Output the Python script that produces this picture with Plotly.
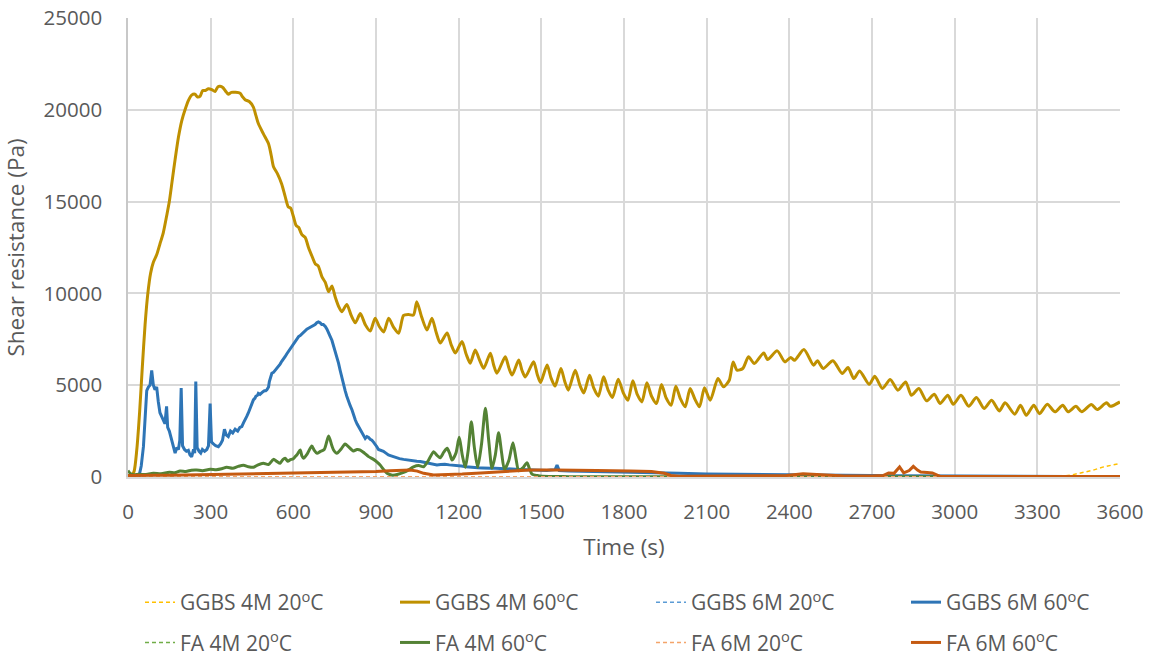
import plotly.graph_objects as go

# ---------------- data ----------------
t_ggbs4_60 = [0, 12, 22, 32, 42, 52, 62, 72, 82, 92, 104, 116, 128, 140, 150, 160, 171, 183, 195, 207,
              219, 231, 243, 252, 262, 271, 280, 292, 304, 316, 326, 334, 345, 355, 364, 375, 390, 407,
              416, 425, 440, 455, 464, 473, 491, 510, 520, 528, 543, 558, 570, 582, 590, 600, 610, 619,
              631, 643, 655, 667, 680, 690, 704, 716, 728, 740, 752, 764, 776, 794, 810, 825, 843, 861,
              879, 897, 912, 928, 946, 964, 982, 1000, 1018, 1036, 1048, 1066, 1085, 1103, 1118, 1133,
              1158, 1173, 1188, 1212, 1227, 1242, 1260, 1275, 1291, 1315, 1327, 1339, 1369, 1382, 1394,
              1418, 1430, 1442, 1472, 1485, 1497, 1521, 1535, 1550, 1571, 1585, 1598, 1623, 1640, 1654,
              1675, 1690, 1707, 1726, 1742, 1758, 1779, 1797, 1814, 1832, 1848, 1865, 1883, 1900, 1918,
              1936, 1953, 1971, 1988, 2005, 2022, 2040, 2057, 2074, 2092, 2113, 2141, 2161, 2182, 2196,
              2210, 2231, 2252, 2273, 2307, 2321, 2356, 2384, 2405, 2419, 2453, 2488, 2502, 2523, 2558,
              2592, 2613, 2634, 2655, 2690, 2710, 2738, 2766, 2794, 2822, 2843, 2870, 2898, 2926, 2947,
              2975, 2995, 3023, 3051, 3079, 3107, 3134, 3162, 3183, 3218, 3239, 3260, 3287, 3308, 3336,
              3364, 3392, 3412, 3440, 3461, 3496, 3517, 3551, 3565, 3600]
v_ggbs4_60 = [0, 50, 300, 1500, 3500, 6000, 8300, 10000, 11100, 11700, 12100, 12700, 13300, 14200, 15000,
              16100, 17300, 18500, 19400, 20000, 20500, 20800, 20850, 20700, 20750, 21050, 21050, 21150,
              21100, 21000, 21250, 21280, 21200, 21000, 20850, 20950, 20950, 20900, 20700, 20550, 20450,
              20150, 19700, 19250, 18700, 18150, 17500, 16900, 16500, 15950, 15300, 14700, 14650, 14200,
              13700, 13600, 13200, 13050, 12500, 12050, 11600, 11500, 10900, 10600, 10100, 10400, 9800,
              9300, 9000, 9400, 8800, 8400, 8900, 8300, 7950, 8650, 8200, 7900, 8650, 8150, 7830, 8800,
              8850, 8820, 9550, 8700, 8000, 8650, 7900, 7300, 7850, 7200, 6750, 7380, 6700, 6200, 6920,
              6400, 5920, 6740, 6100, 5650, 6550, 5950, 5550, 6370, 5800, 5450, 6280, 5600, 5150, 6100,
              5400, 4950, 5910, 5200, 4730, 5820, 5000, 4580, 5545, 4850, 4400, 5455, 4750, 4330, 5330,
              4600, 4180, 5240, 4500, 4090, 5130, 4400, 4000, 5040, 4300, 3910, 4945, 4250, 3820, 4820,
              4250, 3820, 4855, 4180, 5360, 4910, 5270, 6270, 5820, 5910, 6545, 6180, 6760, 6400, 6870,
              6270, 6510, 6360, 6945, 6090, 6330, 5910, 6330, 5640, 5960, 5360, 5780, 5050, 5490, 4820,
              5310, 4730, 5180, 4450, 4820, 4150, 4510, 4000, 4450, 3960, 4450, 3850, 4330, 3730, 4180,
              3600, 4040, 3420, 3910, 3360, 3910, 3450, 3960, 3550, 3910, 3550, 3850, 3550, 3950, 3670,
              4040, 3850, 4090]

t_ggbs6_60 = [0, 30, 40, 48, 56, 62, 68, 74, 80, 86, 92, 98, 104, 110, 116, 122, 128, 134, 140, 144, 150,
              158, 165, 171, 177, 183, 188, 193, 198, 205, 212, 219, 225, 231, 238, 242, 246, 251, 258,
              264, 270, 278, 286, 292, 298, 303, 310, 318, 328, 336, 343, 350, 356, 364, 372, 380, 389,
              398, 406, 413, 419, 425, 431, 437, 443, 446, 452, 455, 461, 464, 470, 473, 479, 485, 490,
              495, 500, 504, 510, 513, 518, 522, 528, 534, 540, 546, 552, 558, 564, 570, 576, 583, 589,
              595, 601, 607, 613, 619, 625, 631, 637, 643, 649, 655, 661, 667, 673, 679, 685, 691, 697,
              703, 709, 716, 722, 728, 734, 740, 746, 752, 758, 764, 770, 776, 782, 788, 794, 800, 806,
              813, 819, 825, 831, 837, 843, 849, 855, 861, 867, 873, 879, 885, 891, 897, 903, 909, 918,
              927, 936, 945, 955, 964, 975, 985, 1000, 1012, 1024, 1036, 1048, 1061, 1075, 1090, 1105,
              1121, 1135, 1150, 1166, 1182, 1196, 1210, 1226, 1242, 1256, 1270, 1286, 1303, 1318, 1333,
              1348, 1363, 1378, 1393, 1408, 1424, 1439, 1454, 1469, 1484, 1500, 1520, 1535, 1550, 1557,
              1565, 1600, 1650, 1700, 1750, 1800, 1850, 1900, 1950, 2000, 2100, 2200, 2300, 2400, 2500,
              2600, 2700, 2800, 2900, 3000, 3100, 3200, 3300, 3400, 3500, 3600]
v_ggbs6_60 = [0, 0, 50, 600, 1650, 3200, 4700, 4900, 5000, 5800, 5000, 4750, 4900, 4100, 3500, 3300, 3050,
              2900, 3850, 2700, 2500, 2000, 1500, 1300, 1600, 1500, 2000, 4850, 1700, 1500, 1400, 1450,
              1200, 1100, 1500, 1300, 5200, 1600, 1400, 1300, 1500, 1400, 1500, 1700, 4000, 1900, 1800,
              1700, 1650, 1800, 2000, 2600, 2300, 2200, 2500, 2400, 2600, 2500, 2700, 2750, 2950, 3100,
              3300, 3500, 3700, 3900, 4050, 4200, 4300, 4400, 4450, 4550, 4500, 4600, 4650, 4700, 4700,
              4750, 4900, 5200, 5400, 5650, 5700, 5800, 5900, 6050, 6150, 6300, 6400, 6550, 6700, 6850,
              6950, 7100, 7250, 7350, 7500, 7650, 7700, 7800, 7900, 8000, 8050, 8100, 8150, 8200, 8250,
              8300, 8400, 8450, 8400, 8300, 8300, 8200, 8050, 7800, 7650, 7450, 7150, 6800, 6500, 6200,
              5800, 5400, 5050, 4700, 4400, 4100, 3900, 3650, 3350, 3100, 2900, 2750, 2600, 2400, 2250,
              2100, 2200, 2150, 2050, 2000, 1900, 1800, 1650, 1500, 1450, 1400, 1300, 1200, 1150, 1100,
              1050, 1000, 960, 930, 900, 850, 860, 840, 800, 750, 720, 650, 680, 700, 660, 650, 620, 600,
              560, 530, 520, 500, 490, 470, 470, 480, 460, 470, 450, 430, 420, 410, 400, 380, 360, 350,
              360, 360, 380, 400, 650, 350, 320, 300, 290, 280, 260, 250, 230, 220, 200, 170, 150, 130,
              110, 100, 90, 80, 70, 60, 50, 40, 40, 30, 30, 20, 20]

t_fa4_60 = [0, 8, 20, 40, 60, 92, 120, 150, 170, 189, 210, 230, 249, 270, 298, 320, 340, 358, 380, 400,
            419, 437, 455, 470, 491, 510, 528, 540, 552, 562, 570, 580, 588, 600, 607, 615, 625, 631, 637,
            650, 667, 676, 686, 697, 712, 728, 740, 746, 758, 772, 788, 800, 818, 831, 843, 858, 873, 891,
            905, 915, 928, 940, 960, 980, 1000, 1020, 1036, 1055, 1073, 1090, 1109, 1120, 1133, 1146,
            1158, 1167, 1176, 1190, 1202, 1213, 1224, 1235, 1246, 1257, 1269, 1283, 1297, 1309, 1321,
            1333, 1345, 1356, 1366, 1382, 1397, 1408, 1418, 1433, 1448, 1457, 1466, 1485, 1503, 1600,
            1800, 2000, 2500, 3000, 3600]
v_fa4_60 = [350, 200, 120, 150, 130, 200, 180, 260, 230, 330, 300, 370, 380, 340, 420, 400, 450, 530, 480,
            580, 640, 560, 530, 650, 750, 680, 960, 850, 750, 950, 1020, 860, 930, 1000, 1110, 1250, 1470,
            1150, 1020, 1250, 1690, 1450, 1290, 1380, 1500, 2230, 1700, 1470, 1290, 1500, 1800, 1650, 1420,
            1500, 1470, 1300, 1110, 960, 800, 650, 400, 200, 100, 150, 250, 400, 550, 620, 560, 900, 1380,
            1200, 1050, 1350, 1560, 1300, 930, 1300, 2160, 1200, 530, 1500, 3010, 1600, 530, 1800, 3740,
            2000, 470, 1200, 2410, 1300, 420, 900, 1870, 1000, 340, 500, 780, 450, 160, 80, 40, 20, 10, 10,
            10, 10, 10]

t_fa6_60 = [0, 50, 100, 150, 200, 250, 300, 350, 400, 450, 500, 550, 600, 650, 700, 750, 800, 850, 900,
            950, 1000, 1024, 1050, 1073, 1109, 1150, 1213, 1280, 1339, 1400, 1460, 1550, 1642, 1700, 1823,
            1900, 1946, 1970, 2000, 2100, 2200, 2300, 2390, 2450, 2500, 2530, 2600, 2700, 2740, 2760, 2780,
            2800, 2815, 2835, 2850, 2865, 2877, 2900, 2919, 2947, 3000, 3200, 3400, 3600]
v_fa6_60 = [80, 70, 90, 100, 110, 130, 140, 150, 160, 170, 190, 200, 210, 230, 250, 260, 280, 290, 300,
            340, 370, 380, 320, 200, 110, 120, 160, 220, 270, 330, 380, 380, 380, 360, 330, 300, 200, 80,
            40, 40, 40, 50, 80, 180, 150, 100, 60, 50, 80, 220, 200, 545, 220, 350, 580, 380, 270, 250,
            220, 40, 30, 30, 30, 30]

t_ggbs4_20 = [0, 600, 1200, 1800, 2400, 3000, 3380, 3430, 3470, 3500, 3540, 3570, 3600]
v_ggbs4_20 = [10, 10, 10, 10, 10, 10, 10, 130, 260, 360, 550, 660, 740]

t_ggbs6_20 = [0, 900, 1800, 2700, 3600]
v_ggbs6_20 = [20, 20, 20, 20, 20]

t_fa4_20 = [0, 900, 1800, 2700, 3600]
v_fa4_20 = [5, 5, 5, 5, 5]

t_fa6_20 = [0, 900, 1800, 2700, 3600]
v_fa6_20 = [15, 15, 15, 15, 15]

x_ticks = [0, 300, 600, 900, 1200, 1500, 1800, 2100, 2400, 2700, 3000, 3300, 3600]
y_ticks = [0, 5000, 10000, 15000, 20000, 25000]

FONT = "Open Sans"
TXT = "#595959"
GRID = "#D9D9D9"

series = [
    # name, t, v, color, dashed, legend, shape
    ("GGBS 4M 20<sup>o</sup>C", t_ggbs4_20, v_ggbs4_20, "#FFC000", True, "legend", "linear"),
    ("GGBS 4M 60<sup>o</sup>C", t_ggbs4_60, v_ggbs4_60, "#BF9000", False, "legend2", "spline"),
    ("GGBS 6M 20<sup>o</sup>C", t_ggbs6_20, v_ggbs6_20, "#5B9BD5", True, "legend3", "linear"),
    ("GGBS 6M 60<sup>o</sup>C", t_ggbs6_60, v_ggbs6_60, "#2E75B6", False, "legend4", "linear"),
    ("FA 4M 20<sup>o</sup>C", t_fa4_20, v_fa4_20, "#70AD47", True, "legend", "linear"),
    ("FA 4M 60<sup>o</sup>C", t_fa4_60, v_fa4_60, "#548235", False, "legend2", "spline"),
    ("FA 6M 20<sup>o</sup>C", t_fa6_20, v_fa6_20, "#F4A46A", True, "legend3", "linear"),
    ("FA 6M 60<sup>o</sup>C", t_fa6_60, v_fa6_60, "#C55A11", False, "legend4", "linear"),
]

fig = go.Figure()
for i, (name, t, v, col, dashed, leg, shape) in enumerate(series):
    line = dict(color=col, width=1.5 if dashed else 3, shape=shape)
    if shape == "spline":
        line["smoothing"] = 0.7
    if dashed:
        line["dash"] = "4px,3px"
    fig.add_trace(go.Scatter(x=t, y=v, mode="lines", name=name, line=line,
                             legend=leg, legendgroup="g%d" % i))

W, H = 1155, 657
L, R, T, B = 128, 35, 18, 180
pw, ph = W - L - R, H - T - B


def px_x(p):
    return (p - L) / pw


def px_y(p):
    return (H - B - p) / ph


leg_common = dict(orientation="v", font=dict(family=FONT, size=21, color=TXT),
                  bgcolor="rgba(0,0,0,0)", borderwidth=0, tracegroupgap=10,
                  itemwidth=30, xanchor="left", yanchor="top", y=px_y(582))
text_starts = [182, 437, 693, 948]
layout_legends = {}
for k, name in enumerate(["legend", "legend2", "legend3", "legend4"]):
    d = dict(leg_common)
    d["x"] = px_x(text_starts[k] - 42)
    layout_legends[name] = d

fig.update_layout(
    width=W, height=H,
    margin=dict(l=L, r=R, t=T, b=B, autoexpand=False),
    paper_bgcolor="white", plot_bgcolor="white",
    font=dict(family=FONT, color=TXT),
    showlegend=True,
    **layout_legends,
)

fig.update_xaxes(
    range=[0, 3600], tickvals=x_ticks, ticktext=[str(v) for v in x_ticks],
    showgrid=True, gridcolor=GRID, gridwidth=1.5, zeroline=False,
    showline=True, linecolor=GRID, linewidth=1.5, mirror=False,
    ticks="", tickfont=dict(family=FONT, size=20.5, color=TXT), ticklabelstandoff=16,
    title=dict(text="Time (s)", font=dict(family=FONT, size=22.5, color=TXT), standoff=15),
    automargin=False,
)
fig.update_yaxes(
    range=[0, 25000], tickvals=y_ticks, ticktext=[str(v) for v in y_ticks],
    showgrid=True, gridcolor=GRID, gridwidth=1.5, zeroline=False,
    showline=True, linecolor="#C8C8C8", linewidth=1.5,
    ticks="", tickfont=dict(family=FONT, size=20.5, color=TXT), ticklabelstandoff=20,
    title=dict(text="Shear resistance (Pa)", font=dict(family=FONT, size=22.5, color=TXT), standoff=14),
    automargin=False,
)

fig.write_html("out.html")
